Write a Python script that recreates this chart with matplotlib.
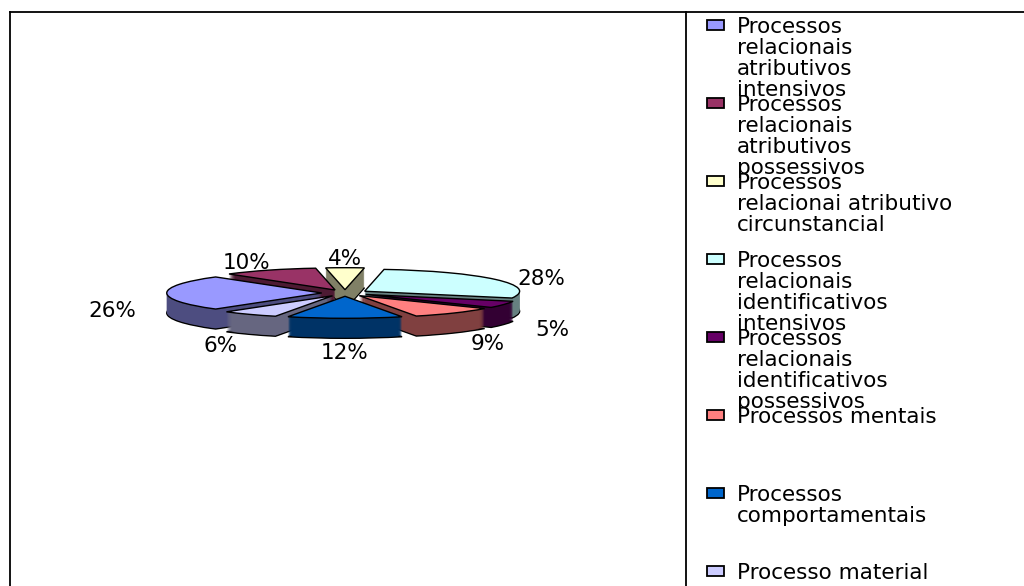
import numpy as np
import matplotlib
matplotlib.use("Agg")
import matplotlib.pyplot as plt
from matplotlib.colors import to_rgb
from matplotlib.patches import Rectangle

# ------------------------------- data -------------------------------------#
labels = [
    "Processos\nrelacionais\natributivos\nintensivos",
    "Processos\nrelacionais\natributivos\npossessivos",
    "Processos\nrelacionai atributivo\ncircunstancial",
    "Processos\nrelacionais\nidentificativos\nintensivos",
    "Processos\nrelacionais\nidentificativos\npossessivos",
    "Processos mentais",
    "Processos\ncomportamentais",
    "Processo material",
]
values = [26, 10, 4, 28, 5, 9, 12, 6]
colors = ["#9999FF", "#993366", "#FFFFCC", "#CCFFFF",
          "#660066", "#FF8080", "#0066CC", "#CCCCFF"]
side_colors = [tuple(c * 0.5 for c in to_rgb(col)) for col in colors]

plt.rcParams['font.family'] = ['DejaVu Sans']
FS = 15.5

W, H = 1024, 586
fig = plt.figure(figsize=(W / 100, H / 100), dpi=100)

# background axes in pixel units: frame + legend
bg = fig.add_axes([0, 0, 1, 1])
bg.set_xlim(0, W)
bg.set_ylim(H, 0)
bg.axis('off')
bg.plot([10, W], [12, 12], color='black', lw=1.3)
bg.plot([10, 10], [12, H], color='black', lw=1.3)
bg.plot([686, 686], [12, H], color='black', lw=1.3)

for i, (lab, col) in enumerate(zip(labels, colors)):
    top = 20 + i * 78
    bg.add_patch(Rectangle((707, top), 17, 10, facecolor=col,
                           edgecolor='black', lw=1.3))
    for j, line in enumerate(lab.split("\n")):
        bg.text(737, top + 13 + j * 21, line, fontsize=FS,
                ha='left', va='baseline')

# ------------------------- flattened 3d pie -------------------------------#
cx, cy = 345, 293      # centre of top face (px)
sx, sy = 155, 22       # px per data unit in x and y
L, M = 2.2, 5.0
ax = fig.add_axes([(cx - L * sx) / W, (H - cy - M * sy) / H,
                   2 * L * sx / W, 2 * M * sy / H])

depth = 20 / sy
n_layers = 21
explode = [0.15] * len(values)
start = 226.8

layers = []
for k, d in enumerate(np.linspace(depth, 0, n_layers)):
    is_top = k == n_layers - 1
    edge = 1.0 if (is_top or k == 0) else 0
    wedges, _ = ax.pie(values, colors=colors if is_top else side_colors,
                       explode=explode, startangle=start, counterclock=False,
                       center=(0, -d),
                       wedgeprops=dict(edgecolor='black', linewidth=edge))
    layers.append(wedges)

top_wedges = layers[-1]
mids = np.array([np.deg2rad((w.theta1 + w.theta2) / 2) for w in top_wedges])
order = np.argsort(-np.sin(mids))       # back slices first
rank = {idx: r for r, idx in enumerate(order)}
for k, wedges in enumerate(layers):
    for i, w in enumerate(wedges):
        w.set_zorder(2 + rank[i] * 100 + k)

for i, v in enumerate(values):
    th = mids[i]
    s = np.sin(th)
    x = 1.5 * np.cos(th)
    y = 1.9 * s - 8 / sy - (10 / sy if s < 0 else 0)
    ax.text(x, y, f"{v}%", fontsize=FS, ha='center', va='center', zorder=2000)

ax.set_xlim(-L, L)
ax.set_ylim(-M, M)
ax.set_aspect('auto')
ax.axis('off')

fig.savefig("out.png", dpi=100)
